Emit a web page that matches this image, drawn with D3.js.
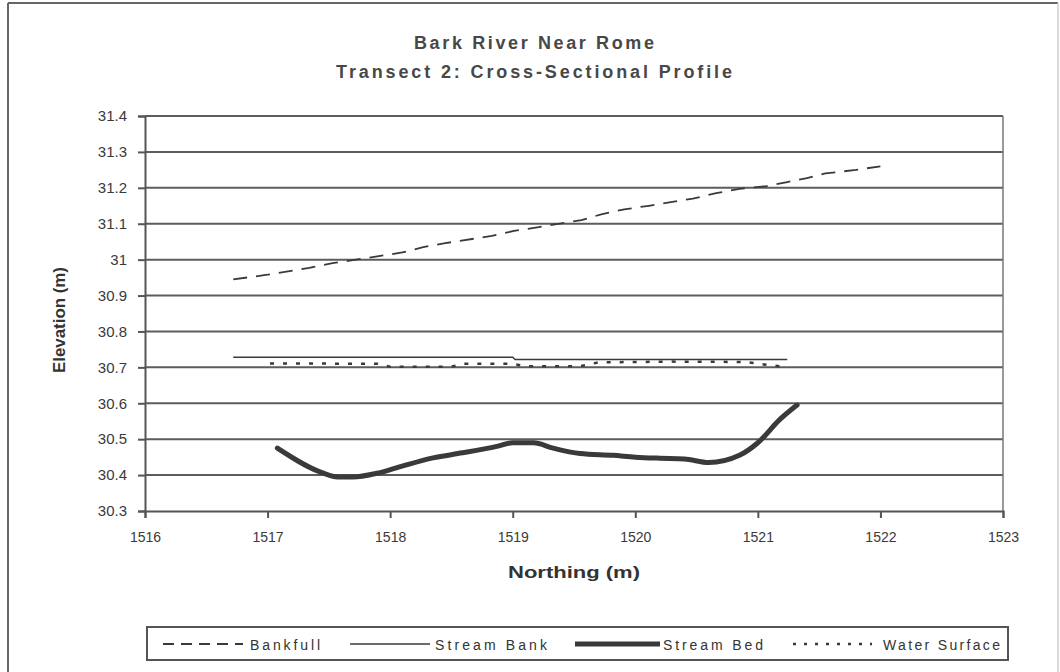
<!DOCTYPE html>
<html><head><meta charset="utf-8">
<script src="https://cdn.jsdelivr.net/npm/d3@7/dist/d3.min.js"></script>
<style>
html,body{margin:0;padding:0;background:#fff;}
svg{display:block;}
text{font-family:"Liberation Sans",Arial,sans-serif;fill:#333;}
</style></head>
<body>
<svg id="chart" width="1060" height="672"></svg>
<script>
// ---- data ----
const titleLines = ["Bark River Near Rome", "Transect 2: Cross-Sectional Profile"];
const xTicks = [1516, 1517, 1518, 1519, 1520, 1521, 1522, 1523];
const xTickLabels = ["1516", "1517", "1518", "1519", "1520", "1521", "1522", "1523"];
const yTicks = [30.3, 30.4, 30.5, 30.6, 30.7, 30.8, 30.9, 31.0, 31.1, 31.2, 31.3, 31.4];
const yTickLabels = ["30.3", "30.4", "30.5", "30.6", "30.7", "30.8", "30.9", "31", "31.1", "31.2", "31.3", "31.4"];
const seriesNames = ["Bankfull", "Stream Bank", "Stream Bed", "Water Surface"];

const bankfullX = [1516.72, 1517.0, 1517.34, 1517.53, 1518.1, 1518.27, 1518.45, 1518.83, 1519.01, 1519.2, 1519.56, 1519.73, 1519.91, 1520.11, 1520.29, 1520.47, 1520.66, 1520.85, 1521.07, 1521.24, 1521.4, 1521.55, 1521.8, 1522.0];
const bankfullY = [30.945, 30.958, 30.977, 30.99, 31.02, 31.035, 31.046, 31.066, 31.08, 31.09, 31.11, 31.127, 31.14, 31.15, 31.16, 31.17, 31.185, 31.197, 31.205, 31.216, 31.227, 31.24, 31.25, 31.26];

const bankX = [1516.72, 1519.0, 1519.02, 1521.24];
const bankY = [30.728, 30.728, 30.722, 30.722];

const bedX = [1517.08, 1517.45, 1517.57, 1517.7, 1517.89, 1518.05, 1518.35, 1518.59, 1518.87, 1519.0, 1519.17, 1519.33, 1519.55, 1519.82, 1520.0, 1520.2, 1520.4, 1520.6, 1520.85, 1521.0, 1521.18, 1521.32];
const bedY = [30.475, 30.406, 30.395, 30.395, 30.405, 30.42, 30.448, 30.462, 30.48, 30.49, 30.49, 30.475, 30.46, 30.455, 30.45, 30.447, 30.445, 30.435, 30.455, 30.49, 30.555, 30.595];

const waterX = [1517.02, 1517.9, 1518.0, 1518.5, 1518.6, 1519.0, 1519.1, 1519.55, 1519.7, 1520.3, 1520.9, 1521.05, 1521.2];
const waterY = [30.711, 30.71, 30.702, 30.702, 30.71, 30.71, 30.703, 30.703, 30.714, 30.716, 30.715, 30.708, 30.702];

// ---- drawing ----
const svg = d3.select("#chart");
const x = d3.scaleLinear().domain([1516, 1523]).range([145, 1003]);
const y = d3.scaleLinear().domain([30.3, 31.4]).range([511, 116]);
const ink = "#3a3a3a";

// outer chart border
svg.append("line").attr("x1", 8).attr("x2", 1058).attr("y1", 3).attr("y2", 3).attr("stroke", "#666").attr("stroke-width", 2);
svg.append("line").attr("x1", 8).attr("x2", 8).attr("y1", 3).attr("y2", 672).attr("stroke", "#666").attr("stroke-width", 2);
svg.append("line").attr("x1", 1058).attr("x2", 1058).attr("y1", 3).attr("y2", 672).attr("stroke", "#ccc").attr("stroke-width", 1.5);

// titles
svg.selectAll("text.title").data(titleLines).join("text")
  .attr("class", "title")
  .attr("x", 534).attr("y", (d, i) => 49 + i * 29)
  .attr("text-anchor", "middle")
  .attr("font-size", 18).attr("font-weight", "bold").style("fill", "#484848")
  .attr("textLength", (d, i) => i === 0 ? 240 : 396).attr("lengthAdjust", "spacing")
  .text(d => d);

// gridlines
svg.append("g").selectAll("line").data(yTicks.slice(1)).join("line")
  .attr("x1", x(1516)).attr("x2", x(1523))
  .attr("y1", d => y(d)).attr("y2", d => y(d))
  .attr("stroke", "#5c5c5c").attr("stroke-width", 2);

// plot right border
svg.append("line").attr("x1", x(1523)).attr("x2", x(1523)).attr("y1", y(31.4)).attr("y2", y(30.3))
  .attr("stroke", "#777").attr("stroke-width", 1.5);

// axes
const yAxis = d3.axisLeft(y).tickValues(yTicks).tickFormat((d, i) => yTickLabels[i]).tickSize(7).tickPadding(11);
const gy = svg.append("g").attr("transform", `translate(${x(1516)},0)`).call(yAxis);
gy.select(".domain").attr("stroke", "#555").attr("stroke-width", 2);
gy.selectAll(".tick line").attr("stroke", "#555").attr("stroke-width", 2);
gy.selectAll(".tick text").attr("font-size", 15).attr("font-family", "Liberation Sans, Arial, sans-serif").style("fill", "#3a3a3a");

const xAxis = d3.axisBottom(x).tickValues(xTicks).tickFormat((d, i) => xTickLabels[i]).tickSize(7).tickPadding(14);
const gx = svg.append("g").attr("transform", `translate(0,${y(30.3)})`).call(xAxis);
gx.select(".domain").attr("stroke", "#555").attr("stroke-width", 2);
gx.selectAll(".tick line").attr("stroke", "#555").attr("stroke-width", 2);
gx.selectAll(".tick text").attr("font-size", 14).attr("font-family", "Liberation Sans, Arial, sans-serif").style("fill", "#3a3a3a");

// axis titles
svg.append("text").attr("x", 574).attr("y", 578).attr("text-anchor", "middle")
  .attr("font-size", 16).attr("font-weight", "bold").style("fill", "#333")
  .attr("textLength", 132).attr("lengthAdjust", "spacingAndGlyphs")
  .text("Northing (m)");
svg.append("text").attr("transform", "translate(65,320) rotate(-90)").attr("text-anchor", "middle")
  .attr("font-size", 16).attr("font-weight", "bold").style("fill", "#333")
  .attr("textLength", 106).attr("lengthAdjust", "spacingAndGlyphs")
  .text("Elevation (m)");

// series
const line = d3.line().x(d => x(d[0])).y(d => y(d[1]));
const smooth = d3.line().x(d => x(d[0])).y(d => y(d[1])).curve(d3.curveMonotoneX);
const zip = (a, b) => a.map((v, i) => [v, b[i]]);

svg.append("path").datum(zip(bankX, bankY)).attr("d", line)
  .attr("fill", "none").attr("stroke", ink).attr("stroke-width", 1.5);
svg.append("path").datum(zip(waterX, waterY)).attr("d", line)
  .attr("fill", "none").attr("stroke", ink).attr("stroke-width", 2.5).attr("stroke-dasharray", "4,9");
svg.append("path").datum(zip(bankfullX, bankfullY)).attr("d", line)
  .attr("fill", "none").attr("stroke", ink).attr("stroke-width", 1.8).attr("stroke-dasharray", "14,9");
svg.append("path").datum(zip(bedX, bedY)).attr("d", smooth)
  .attr("fill", "none").attr("stroke", ink).attr("stroke-width", 5).attr("stroke-linecap", "round");

// legend
svg.append("rect").attr("x", 147).attr("y", 627).attr("width", 861).attr("height", 33)
  .attr("fill", "#fff").attr("stroke", "#555").attr("stroke-width", 2);
const legendItems = [
  {x1: 163, x2: 243, tx: 250, tw: 70, dash: "11,7", w: 1.8},
  {x1: 350, x2: 430, tx: 435, tw: 112, dash: null, w: 1.5},
  {x1: 575, x2: 660, tx: 663, tw: 100, dash: null, w: 5},
  {x1: 793, x2: 872, tx: 883, tw: 117, dash: "3,8", w: 2.5}
];
const lg = svg.append("g").selectAll("g").data(legendItems).join("g");
lg.append("line").attr("x1", d => d.x1).attr("x2", d => d.x2).attr("y1", 644).attr("y2", 644)
  .attr("stroke", ink).attr("stroke-width", d => d.w).attr("stroke-dasharray", d => d.dash);
lg.append("text").attr("x", d => d.tx).attr("y", 650).attr("font-size", 14).style("fill", "#333")
  .attr("textLength", d => d.tw).attr("lengthAdjust", "spacing")
  .text((d, i) => seriesNames[i]);
</script>
</body></html>
